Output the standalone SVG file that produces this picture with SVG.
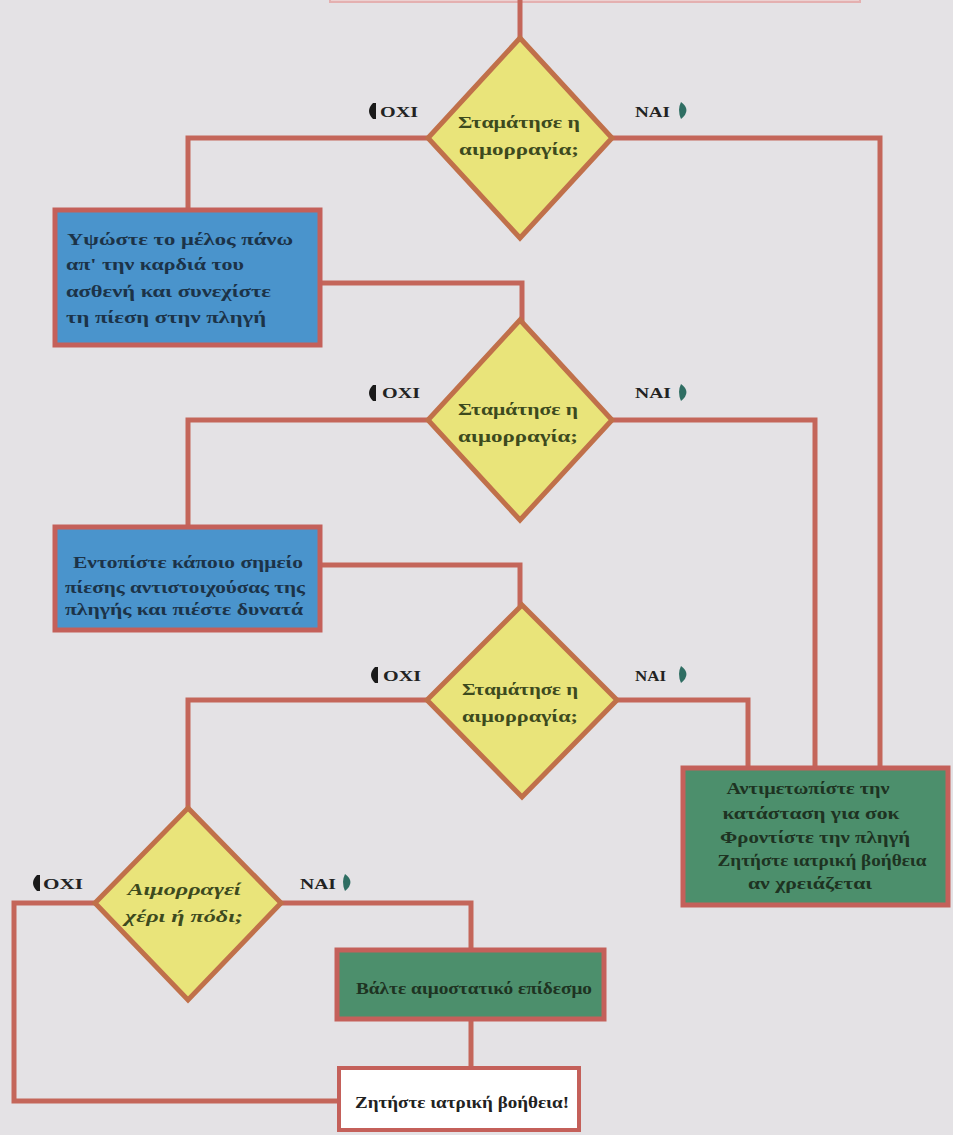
<svg xmlns="http://www.w3.org/2000/svg" width="953" height="1135" viewBox="0 0 953 1135">
<style>
.bg{fill:#e4e2e5}
.ln{fill:none;stroke:#c4665a;stroke-width:5;stroke-linejoin:miter}
.dia{fill:#e9e47a;stroke:#c0704a;stroke-width:5}
.blue{fill:#4a94cc;stroke:#c4605a;stroke-width:5}
.green{fill:#4c8f6c;stroke:#c4605a;stroke-width:5}
.white{fill:#ffffff;stroke:#c4605a;stroke-width:4}
text{font-family:"Liberation Serif","DejaVu Serif",serif;font-weight:bold}
.dt{font-size:17px;fill:#3d4a1e;text-anchor:middle}
.bt{font-size:17px;fill:#1c3348}
.gt{font-size:17px;fill:#1e3322;text-anchor:middle}
.lab{font-size:15px;fill:#222}
.no{fill:#1a1a1a}
.yes{fill:#2f6e63}
</style>
<rect class="bg" x="0" y="0" width="953" height="1135"/>
<rect x="330" y="-20" width="530" height="22" fill="#ecd0d0" stroke="#e4b0b0" stroke-width="2"/>

<g id="connectors">
<path class="ln" d="M520 0 V40"/>
<path class="ln" d="M428 138 H188 V212"/>
<path class="ln" d="M612 138 H880 V770"/>
<path class="ln" d="M320 283 H522 V322"/>
<path class="ln" d="M428 420 H188 V529"/>
<path class="ln" d="M612 420 H815 V770"/>
<path class="ln" d="M320 565 H520 V606"/>
<path class="ln" d="M427 700 H188 V808"/>
<path class="ln" d="M617 700 H748 V770"/>
<path class="ln" d="M95 903 H14 V1101 H340"/>
<path class="ln" d="M281 903 H471 V951"/>
<path class="ln" d="M471 1019 V1069"/>
</g>

<g id="d1">
<polygon class="dia" points="520,38 612,138 520,238 428,138"/>
<text class="dt" x="519" y="128" textLength="122" lengthAdjust="spacingAndGlyphs">Σταμάτησε η</text>
<text class="dt" x="519" y="155" textLength="120" lengthAdjust="spacingAndGlyphs">αιμορραγία;</text>
</g>
<g id="d1-labels">
<path class="no" d="M373 103 Q365 111 373 119 L376 119 L376 103 Z"/>
<text class="lab" x="380" y="117" textLength="38" lengthAdjust="spacingAndGlyphs">ΟΧΙ</text>
<text class="lab" x="635" y="117" textLength="35" lengthAdjust="spacingAndGlyphs">ΝΑΙ</text>
<path class="yes" d="M681 102 Q692 110 681 119 Q677 110 681 102 Z"/>
</g>

<g id="b1">
<rect class="blue" x="55" y="210" width="265" height="135"/>
<text class="bt" x="67" y="245" textLength="226" lengthAdjust="spacingAndGlyphs">Υψώστε το μέλος πάνω</text>
<text class="bt" x="66" y="270" textLength="178" lengthAdjust="spacingAndGlyphs">απ' την καρδιά του</text>
<text class="bt" x="66" y="297" textLength="205" lengthAdjust="spacingAndGlyphs">ασθενή και συνεχίστε</text>
<text class="bt" x="66" y="323" textLength="200" lengthAdjust="spacingAndGlyphs">τη πίεση στην πληγή</text>
</g>

<g id="d2">
<polygon class="dia" points="520,320 612,420 520,520 428,420"/>
<text class="dt" x="518" y="415" textLength="120" lengthAdjust="spacingAndGlyphs">Σταμάτησε η</text>
<text class="dt" x="518" y="442" textLength="120" lengthAdjust="spacingAndGlyphs">αιμορραγία;</text>
</g>
<g id="d2-labels">
<path class="no" d="M373 385 Q365 393 373 401 L376 401 L376 385 Z"/>
<text class="lab" x="382" y="398" textLength="38" lengthAdjust="spacingAndGlyphs">ΟΧΙ</text>
<text class="lab" x="635" y="398" textLength="36" lengthAdjust="spacingAndGlyphs">ΝΑΙ</text>
<path class="yes" d="M681 384 Q692 392 681 401 Q677 392 681 384 Z"/>
</g>

<g id="b2">
<rect class="blue" x="55" y="527" width="265" height="103"/>
<text class="bt" x="73" y="568" textLength="230" lengthAdjust="spacingAndGlyphs">Εντοπίστε κάποιο σημείο</text>
<text class="bt" x="65" y="593" textLength="240" lengthAdjust="spacingAndGlyphs">πίεσης αντιστοιχούσας της</text>
<text class="bt" x="65" y="615" textLength="238" lengthAdjust="spacingAndGlyphs">πληγής και πιέστε δυνατά</text>
</g>

<g id="d3">
<polygon class="dia" points="522,605 617,700 522,797 427,700"/>
<text class="dt" x="520" y="695" textLength="116" lengthAdjust="spacingAndGlyphs">Σταμάτησε η</text>
<text class="dt" x="520" y="722" textLength="116" lengthAdjust="spacingAndGlyphs">αιμορραγία;</text>
</g>
<g id="d3-labels">
<path class="no" d="M375 667 Q367 675 375 683 L378 683 L378 667 Z"/>
<text class="lab" x="383" y="681" textLength="38" lengthAdjust="spacingAndGlyphs">ΟΧΙ</text>
<text class="lab" x="635" y="681" textLength="31" lengthAdjust="spacingAndGlyphs">ΝΑΙ</text>
<path class="yes" d="M681 666 Q692 674 681 683 Q677 674 681 666 Z"/>
</g>

<g id="g1">
<rect class="green" x="683" y="768" width="265" height="137"/>
<text class="gt" x="808" y="794" textLength="163" lengthAdjust="spacingAndGlyphs">Αντιμετωπίστε την</text>
<text class="gt" x="811" y="819" textLength="177" lengthAdjust="spacingAndGlyphs">κατάσταση για σοκ</text>
<text class="gt" x="815" y="843" textLength="190" lengthAdjust="spacingAndGlyphs">Φροντίστε την πληγή</text>
<text class="gt" x="822" y="866" textLength="209" lengthAdjust="spacingAndGlyphs">Ζητήστε ιατρική βοήθεια</text>
<text class="gt" x="810" y="889" textLength="124" lengthAdjust="spacingAndGlyphs">αν χρειάζεται</text>
</g>

<g id="d4">
<polygon class="dia" points="188,808 281,903 188,1000 95,903"/>
<text class="dt" x="184" y="895" font-style="italic" textLength="113" lengthAdjust="spacingAndGlyphs">Αιμορραγεί</text>
<text class="dt" x="184" y="922" font-style="italic" textLength="118" lengthAdjust="spacingAndGlyphs">χέρι ή πόδι;</text>
</g>
<g id="d4-labels">
<path class="no" d="M37 875 Q29 883 37 891 L40 891 L40 875 Z"/>
<text class="lab" x="43" y="889" textLength="40" lengthAdjust="spacingAndGlyphs">ΟΧΙ</text>
<text class="lab" x="300" y="889" textLength="36" lengthAdjust="spacingAndGlyphs">ΝΑΙ</text>
<path class="yes" d="M345 874 Q356 882 345 891 Q341 882 345 874 Z"/>
</g>

<g id="g2">
<rect class="green" x="337" y="950" width="267" height="69"/>
<text class="gt" x="474" y="994" textLength="236" lengthAdjust="spacingAndGlyphs">Βάλτε αιμοστατικό επίδεσμο</text>
</g>

<g id="w1">
<rect class="white" x="339" y="1068" width="240" height="62"/>
<text class="bt" x="355" y="1108" style="fill:#222" textLength="214" lengthAdjust="spacingAndGlyphs">Ζητήστε ιατρική βοήθεια!</text>
</g>
</svg>
